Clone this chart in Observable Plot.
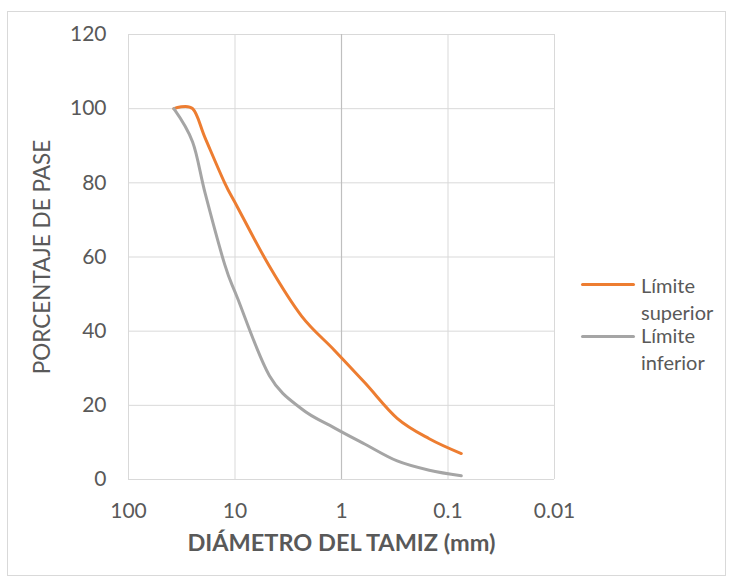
<!DOCTYPE html>
<html>
<head>
<meta charset="utf-8">
<script src="https://cdn.jsdelivr.net/npm/d3@7"></script>
<script src="https://cdn.jsdelivr.net/npm/@observablehq/plot@0.6"></script>
<style>
  html, body { margin: 0; padding: 0; background: #fff; }
  #wrap { position: relative; width: 730px; height: 584px; font-family: Lato, "Open Sans", sans-serif; }
  #frame { position: absolute; left: 7px; top: 11px; width: 717px; height: 563px; border: 1px solid #d9d9d9; pointer-events: none; }
  .item { position: absolute; left: 581px; width: 140px; padding-left: 60px; box-sizing: border-box; color: #595959; font-size: 20px; line-height: 27.5px; }
  .swatch { position: absolute; left: 0; width: 54px; height: 3px; border-radius: 2px; }
</style>
</head>
<body>
<div id="wrap">
  <div id="frame"></div>
  <div id="chart"></div>
</div>
<script>
const diametros = [37.5, 25, 19, 12.5, 9.5, 4.75, 2.36, 1.18, 0.6, 0.3, 0.15, 0.075];
const limiteSuperior = [100, 100, 92, 80, 73.5, 57.5, 44, 35, 26, 16.5, 11, 7];
const limiteInferior = [100, 91, 77, 58, 49, 28, 19, 14, 9.5, 5, 2.5, 1];
const seriesNames = ["Límite superior", "Límite inferior"];
const seriesColors = ["#ED7D31", "#A5A5A5"];
const xTicks = [100, 10, 1, 0.1, 0.01];
const yTicks = [0, 20, 40, 60, 80, 100, 120];
const xTitle = "DIÁMETRO DEL TAMIZ (mm)";
const yTitle = "PORCENTAJE DE PASE";

const data = [];
diametros.forEach((d, i) => {
  data.push({serie: seriesNames[0], d, p: limiteSuperior[i]});
  data.push({serie: seriesNames[1], d, p: limiteInferior[i]});
});

const chart = Plot.plot({
  width: 730,
  height: 584,
  marginLeft: 128,
  marginRight: 176,
  marginTop: 34,
  marginBottom: 105,
  style: {fontFamily: "Lato, 'Open Sans', sans-serif", color: "#595959", background: "transparent"},
  x: {type: "log", domain: [100, 0.01]},
  y: {domain: [0, 120]},
  color: {domain: seriesNames, range: seriesColors},
  marks: [
    Plot.gridX(xTicks, {stroke: "#d9d9d9", strokeOpacity: 1, strokeWidth: 1}),
    Plot.gridY(yTicks, {stroke: "#d9d9d9", strokeOpacity: 1, strokeWidth: 1}),
    Plot.ruleX([1], {stroke: "#bfbfbf", strokeWidth: 1.2}),
    Plot.axisX(xTicks, {tickSize: 0, tickPadding: 24, fontSize: 21, fill: "#595959", tickFormat: d => String(d), label: null}),
    Plot.axisY(yTicks, {tickSize: 0, tickPadding: 22, fontSize: 21, fill: "#595959", label: null}),
    Plot.line(data, {x: "d", y: "p", z: "serie", stroke: "serie", strokeWidth: 3, curve: d3.curveCatmullRom.alpha(0), strokeLinecap: "round", strokeLinejoin: "round"}),
    Plot.text([xTitle], {frameAnchor: "bottom", dy: 71, fontSize: 23.5, fontWeight: "bold", fill: "#595959"}),
    Plot.text([yTitle], {frameAnchor: "left", textAnchor: "middle", rotate: -90, dx: -86, fontSize: 22.5, fill: "#595959"})
  ]
});
document.getElementById("chart").appendChild(chart);

const wrap = document.getElementById("wrap");
seriesNames.forEach((name, i) => {
  const item = document.createElement("div");
  item.className = "item";
  item.style.top = (271.5 + i * 50) + "px";
  const sw = document.createElement("span");
  sw.className = "swatch";
  sw.style.background = seriesColors[i];
  sw.style.top = (11 + i * 2) + "px";
  item.appendChild(sw);
  item.appendChild(document.createTextNode(name));
  wrap.appendChild(item);
});
</script>
</body>
</html>
